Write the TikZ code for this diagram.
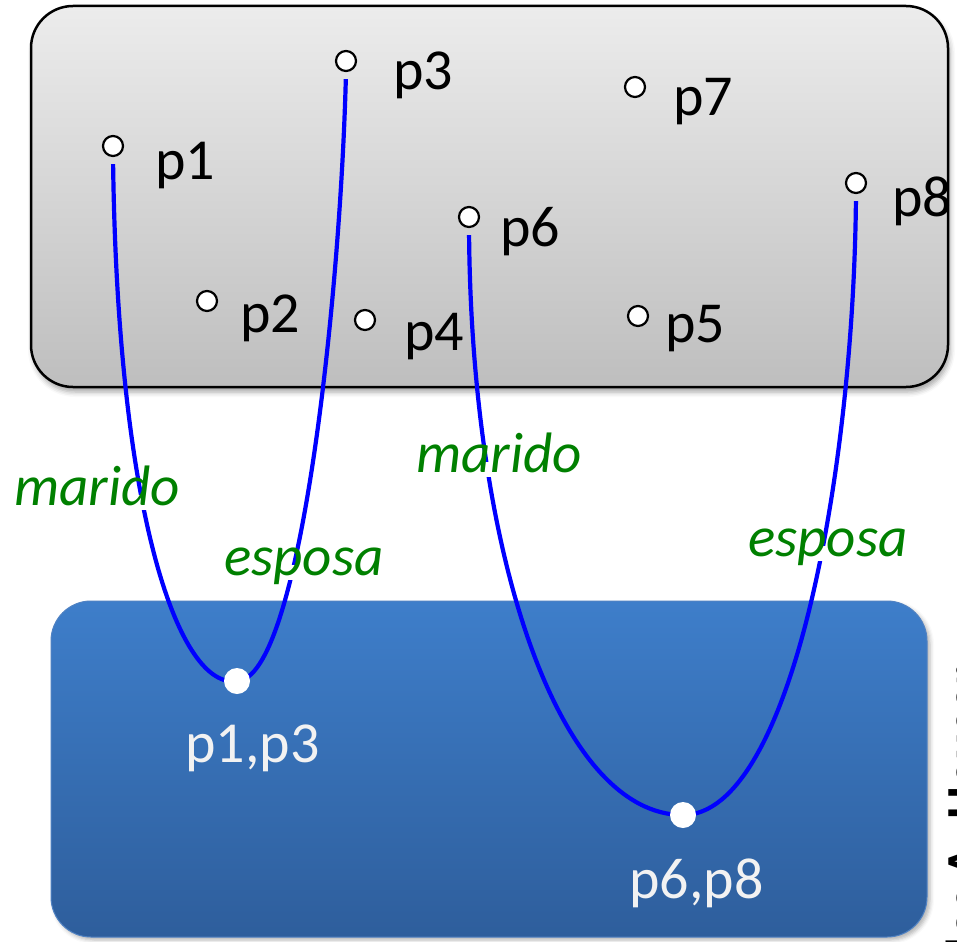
\documentclass[tikz,border=0pt]{standalone}
\usepackage{fontspec}
\setmainfont{Carlito}
\usetikzlibrary{shadows.blur}

\definecolor{relblue}{RGB}{0,0,255}
\definecolor{relgreen}{RGB}{0,128,0}
\definecolor{setgraytop}{RGB}{236,236,236}
\definecolor{setgraybot}{RGB}{190,190,190}
\definecolor{pairtop}{RGB}{62,126,202}
\definecolor{pairbot}{RGB}{46,94,156}
\definecolor{pairedge}{RGB}{80,130,195}
\definecolor{pairtext}{RGB}{242,242,242}

\tikzset{
  person/.style={circle, draw=black, line width=2.2pt, fill=white, minimum size=20pt, inner sep=0pt},
  pairdot/.style={circle, fill=white, minimum size=26pt, inner sep=0pt},
  plabel/.style={anchor=base west, inner sep=0pt, font=\fontsize{58}{60}\selectfont},
  pairlabel/.style={anchor=base west, inner sep=0pt, text=pairtext, font=\fontsize{58}{60}\selectfont},
  rellabel/.style={anchor=base west, fill=white, inner xsep=2pt, inner ysep=3pt,
    text height=0.75em, text depth=0.22em, text=relgreen, font=\fontsize{57}{60}\selectfont\itshape},
  rel/.style={draw=relblue, line width=4.2pt, shorten <=7pt},
}

\begin{document}
\begin{tikzpicture}[x=1pt, y=-1pt]
\useasboundingbox (0,0) rectangle (957,941);
\clip (0,0) rectangle (957,941);

% set of persons
\path[top color=setgraytop, bottom color=setgraybot, draw=black, line width=2.5pt,
      rounded corners=42pt,
      blur shadow={shadow xshift=2pt, shadow yshift=-5pt, shadow blur radius=5pt, shadow opacity=35}]
  (31,6) rectangle (948,387);

% set of couples
\path[top color=pairtop, bottom color=pairbot, draw=pairedge, line width=1pt,
      rounded corners=40pt,
      blur shadow={shadow xshift=3pt, shadow yshift=-3pt, shadow blur radius=4pt, shadow opacity=30}]
  (51,601) rectangle (927,937);

% persons
\node[person] (p1) at (113,146) {};
\node[person] (p2) at (207,301) {};
\node[person] (p3) at (346,61) {};
\node[person] (p4) at (365,320) {};
\node[person] (p5) at (638,316) {};
\node[person] (p6) at (469,217) {};
\node[person] (p7) at (635,87) {};
\node[person] (p8) at (856,183) {};

\node[plabel] (lp1) at (155,180) {p1};
\node[plabel] (lp2) at (240,332) {p2};
\node[plabel] (lp3) at (393,90) {p3};
\node[plabel] (lp4) at (404,350) {p4};
\node[plabel] (lp5) at (665,342) {p5};
\node[plabel] (lp6) at (500,247) {p6};
\node[plabel] (lp7) at (673,116) {p7};
\node[plabel] (lp8) at (892,217) {p8};

% couples
\coordinate (c13) at (237,681);
\coordinate (c68) at (683,815);

% relationships
\draw[rel] (p1.south) .. controls (118,520) and (180,690) .. (c13);
\draw[rel] (p3.south) .. controls (340,300) and (300,680) .. (c13);
\draw[rel] (p6.south) .. controls (472,560) and (560,815) .. (c68);
\draw[rel] (p8.south) .. controls (853,480) and (790,815) .. (c68);

\node[pairdot] (d13) at (c13) {};
\node[pairdot] (d68) at (c68) {};

\node[pairlabel] (l13) at (185,762) {p1,p3};
\node[pairlabel] (l68) at (629,898) {p6,p8};

% relationship names, set on white so the curves pass behind them
\node[rellabel] (m1) at (12,505) {marido};
\node[rellabel] (e1) at (222,575) {esposa};
\node[rellabel] (m2) at (414,472) {marido};
\node[rellabel] (e2) at (746,556) {esposa};

% author credit along the right edge
\node[rotate=90, anchor=north east, inner sep=0pt, font=\fontsize{52}{54}\selectfont\bfseries]
  (credit) at (946,667) {Carlos A. Heuser};
\end{tikzpicture}
\end{document}
